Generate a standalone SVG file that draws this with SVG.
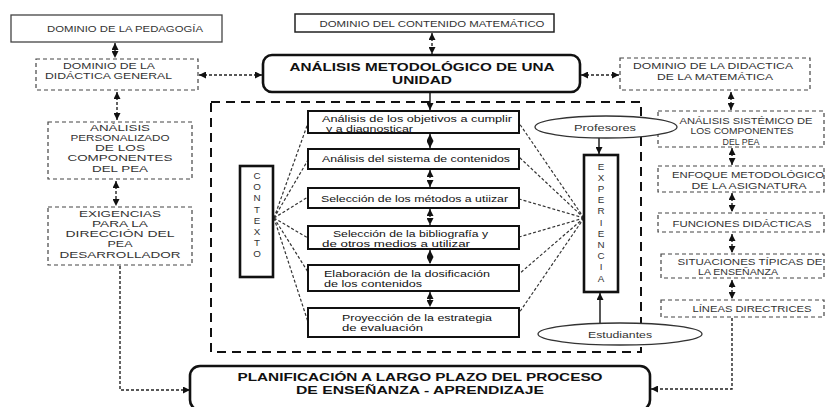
<svg xmlns="http://www.w3.org/2000/svg" width="826" height="407" viewBox="0 0 826 407">
<defs>
<marker id="ah" viewBox="0 0 10 10" refX="10" refY="5" markerWidth="7" markerHeight="7" markerUnits="userSpaceOnUse" orient="auto-start-reverse"><path d="M0,0 L10,5 L0,10 z" fill="#111"/></marker>
<style>
.col{fill:none;stroke:#444;stroke-width:1.2;stroke-dasharray:4 3}
.solid{fill:#fff;stroke:#222;stroke-width:1.5}
.box{fill:#fff;stroke:#111;stroke-width:2}
.thick{fill:#fff;stroke:#111;stroke-width:2.6}
.big{fill:none;stroke:#111;stroke-width:2;stroke-dasharray:9 6}
.dot{fill:none;stroke:#222;stroke-width:1.4;stroke-dasharray:3 2}
.dl{fill:none;stroke:#333;stroke-width:1.2;stroke-dasharray:3 2}
.sl{fill:none;stroke:#111;stroke-width:1.4}
.ell{fill:#fff;stroke:#333;stroke-width:1.3}
text{font-family:"Liberation Sans",Arial,sans-serif}
.ct{font-size:9.2px;fill:#333;text-anchor:middle}
.bt{font-size:9px;fill:#111}
.et{font-size:9px;fill:#333;text-anchor:middle}
.tt{font-size:11.5px;font-weight:bold;fill:#111;text-anchor:middle}
.vt{font-size:9.8px;fill:#333;text-anchor:middle}
</style>
</defs>
<rect width="826" height="407" fill="#fff"/>

<g id="contexto-area"><rect class="big" x="211" y="102" width="430" height="250"/></g>

<g id="connectors">
<path class="dot" d="M115,43 V58" marker-start="url(#ah)" marker-end="url(#ah)"/>
<path class="dot" d="M117,92 V120" marker-start="url(#ah)" marker-end="url(#ah)"/>
<path class="dot" d="M116,181 V206" marker-start="url(#ah)" marker-end="url(#ah)"/>
<path class="dot" d="M120,266 V390 H190" marker-end="url(#ah)"/>
<path class="dot" d="M199,75 H262" marker-start="url(#ah)" marker-end="url(#ah)"/>
<path class="dot" d="M581,75 H619" marker-start="url(#ah)" marker-end="url(#ah)"/>
<path class="dot" d="M432,33 V54" marker-start="url(#ah)" marker-end="url(#ah)"/>
<path class="sl" d="M430,93 V110" marker-end="url(#ah)"/>
<path class="sl" d="M430,134 V148" marker-start="url(#ah)" marker-end="url(#ah)"/>
<path class="dot" d="M430,170 V187" marker-start="url(#ah)" marker-end="url(#ah)"/>
<path class="dot" d="M430,209 V225" marker-start="url(#ah)" marker-end="url(#ah)"/>
<path class="dot" d="M430,250 V264" marker-start="url(#ah)" marker-end="url(#ah)"/>
<path class="dot" d="M430,292 V307" marker-start="url(#ah)" marker-end="url(#ah)"/>
<path class="dot" d="M731,92 V110" marker-start="url(#ah)" marker-end="url(#ah)"/>
<path class="dot" d="M732,148 V165" marker-start="url(#ah)" marker-end="url(#ah)"/>
<path class="dot" d="M732,193 V212" marker-start="url(#ah)" marker-end="url(#ah)"/>
<path class="dot" d="M732,234 V253" marker-start="url(#ah)" marker-end="url(#ah)"/>
<path class="dot" d="M732,280 V299" marker-start="url(#ah)" marker-end="url(#ah)"/>
<path class="dot" d="M732,318 V389 H651" marker-end="url(#ah)"/>
<path class="dl" d="M274,218 L308,123 M274,218 L308,160 M274,218 L308,197 M274,218 L308,238 M274,218 L308,272 M274,218 L308,322"/>
<path class="dl" d="M584,218 L519,123 M584,218 L519,157 M584,218 L519,199 M584,218 L519,237 M584,218 L519,274 M584,218 L519,313"/>
<path class="sl" d="M599,138 V154" marker-end="url(#ah)"/>
<path class="sl" d="M600,323 V293" marker-end="url(#ah)"/>
</g>

<g id="pedagogia"><rect x="11" y="15" width="211" height="27" fill="#fff" stroke="#444" stroke-width="1.3"/><text class="ct" x="125" y="32" textLength="156" lengthAdjust="spacingAndGlyphs">DOMINIO DE LA PEDAGOGÍA</text></g>
<g id="didactica-general"><rect class="col" x="36" y="59" width="162" height="31"/><text class="ct" x="109" y="68.5" textLength="92" lengthAdjust="spacingAndGlyphs">DOMINIO DE LA</text><text class="ct" x="108.5" y="79" textLength="127" lengthAdjust="spacingAndGlyphs">DIDÁCTICA GENERAL</text></g>
<g id="analisis-personalizado"><rect class="col" x="48" y="122" width="144" height="57"/><text class="ct" x="120" y="130.5" textLength="60" lengthAdjust="spacingAndGlyphs">ANÁLISIS</text><text class="ct" x="120" y="140.8" textLength="99" lengthAdjust="spacingAndGlyphs">PERSONALIZADO</text><text class="ct" x="120" y="151.1" textLength="50" lengthAdjust="spacingAndGlyphs">DE LOS</text><text class="ct" x="120" y="161.4" textLength="105" lengthAdjust="spacingAndGlyphs">COMPONENTES</text><text class="ct" x="120" y="171.7" textLength="56" lengthAdjust="spacingAndGlyphs">DEL PEA</text></g>
<g id="exigencias"><rect class="col" x="48" y="207" width="144" height="58"/><text class="ct" x="120" y="216.5" textLength="82" lengthAdjust="spacingAndGlyphs">EXIGENCIAS</text><text class="ct" x="120" y="226.8" textLength="56" lengthAdjust="spacingAndGlyphs">PARA LA</text><text class="ct" x="120" y="237.1" textLength="109" lengthAdjust="spacingAndGlyphs">DIRECCIÓN DEL</text><text class="ct" x="120" y="247.4" textLength="25" lengthAdjust="spacingAndGlyphs">PEA</text><text class="ct" x="120" y="257.7" textLength="121" lengthAdjust="spacingAndGlyphs">DESARROLLADOR</text></g>

<g id="contenido-matematico"><rect class="solid" x="295" y="14" width="259" height="18"/><text class="ct" x="432" y="26.5" textLength="225" lengthAdjust="spacingAndGlyphs">DOMINIO DEL CONTENIDO MATEMÁTICO</text></g>
<g id="analisis-metodologico"><rect class="thick" x="263" y="55" width="317" height="37" rx="9"/><text class="tt" x="422" y="71" textLength="265" lengthAdjust="spacingAndGlyphs">ANÁLISIS METODOLÓGICO DE UNA</text><text class="tt" x="422" y="84" textLength="60" lengthAdjust="spacingAndGlyphs">UNIDAD</text></g>

<g id="didactica-matematica"><rect class="col" x="620" y="58" width="190" height="32"/><text class="ct" x="713" y="69" textLength="160" lengthAdjust="spacingAndGlyphs">DOMINIO DE LA DIDACTICA</text><text class="ct" x="715" y="79.5" textLength="116" lengthAdjust="spacingAndGlyphs">DE LA MATEMÁTICA</text></g>
<g id="analisis-sistemico"><rect class="col" x="658" y="111" width="166" height="36"/><text class="ct" x="746" y="123.5" textLength="133" lengthAdjust="spacingAndGlyphs">ANÁLISIS SISTÉMICO DE</text><text class="ct" x="742" y="134" textLength="103" lengthAdjust="spacingAndGlyphs">LOS COMPONENTES</text><text class="ct" x="741" y="144.5" textLength="37" lengthAdjust="spacingAndGlyphs">DEL PEA</text></g>
<g id="enfoque"><rect class="col" x="658" y="166" width="166" height="26"/><text class="ct" x="748" y="178" textLength="152" lengthAdjust="spacingAndGlyphs">ENFOQUE METODOLÓGICO</text><text class="ct" x="749" y="188.5" textLength="115" lengthAdjust="spacingAndGlyphs">DE LA ASIGNATURA</text></g>
<g id="funciones"><rect class="col" x="658" y="213" width="166" height="19"/><text class="ct" x="742" y="226.5" textLength="139" lengthAdjust="spacingAndGlyphs">FUNCIONES DIDÁCTICAS</text></g>
<g id="situaciones"><rect class="col" x="661" y="254" width="163" height="24"/><text class="ct" x="750" y="264.8" textLength="145" lengthAdjust="spacingAndGlyphs">SITUACIONES TÍPICAS DE</text><text class="ct" x="738" y="275.2" textLength="80" lengthAdjust="spacingAndGlyphs">LA ENSEÑANZA</text></g>
<g id="lineas"><rect class="col" x="661" y="300" width="163" height="17"/><text class="ct" x="752" y="312" textLength="119" lengthAdjust="spacingAndGlyphs">LÍNEAS DIRECTRICES</text></g>

<g id="b1"><rect class="box" x="308" y="111" width="211" height="22"/><text class="bt" x="322" y="121.5" textLength="190" lengthAdjust="spacingAndGlyphs">Análisis  de los objetivos a cumplir</text><text class="bt" x="326" y="131.5" textLength="87" lengthAdjust="spacingAndGlyphs">y a diagnosticar</text></g>
<g id="b2"><rect class="box" x="308" y="149" width="211" height="20"/><text class="bt" x="322" y="162" textLength="188" lengthAdjust="spacingAndGlyphs">Análisis del sistema de contenidos</text></g>
<g id="b3"><rect class="box" x="308" y="188" width="211" height="20"/><text class="bt" x="321" y="201.5" textLength="187" lengthAdjust="spacingAndGlyphs">Selección de los métodos a utiizar</text></g>
<g id="b4"><rect class="box" x="308" y="226" width="211" height="23"/><text class="bt" x="333" y="237" textLength="155" lengthAdjust="spacingAndGlyphs">Selección de la bibliografía y</text><text class="bt" x="322" y="247.2" textLength="148" lengthAdjust="spacingAndGlyphs">de otros medios a utilizar</text></g>
<g id="b5"><rect class="box" x="308" y="265" width="211" height="26"/><text class="bt" x="324" y="276.5" textLength="166" lengthAdjust="spacingAndGlyphs">Elaboración de la dosificación</text><text class="bt" x="324" y="286.7" textLength="98" lengthAdjust="spacingAndGlyphs">de los contenidos</text></g>
<g id="b6"><rect class="box" x="308" y="308" width="211" height="29"/><text class="bt" x="342" y="321" textLength="150" lengthAdjust="spacingAndGlyphs">Proyección de la estrategia</text><text class="bt" x="342" y="331.2" textLength="81" lengthAdjust="spacingAndGlyphs">de evaluación</text></g>

<g id="contexto"><rect class="thick" x="240" y="166" width="33" height="111"/>
<text class="vt" x="257" y="179">C</text><text class="vt" x="257" y="190.2">O</text><text class="vt" x="257" y="201.4">N</text><text class="vt" x="257" y="212.6">T</text><text class="vt" x="257" y="223.8">E</text><text class="vt" x="257" y="235">X</text><text class="vt" x="257" y="246.2">T</text><text class="vt" x="257" y="257.4">O</text></g>

<g id="experiencia"><rect class="thick" x="584" y="155" width="34" height="137"/>
<text class="vt" x="601" y="169.5">E</text><text class="vt" x="601" y="180.7">X</text><text class="vt" x="601" y="191.9">P</text><text class="vt" x="601" y="203.1">E</text><text class="vt" x="601" y="214.3">R</text><text class="vt" x="601" y="225.5">I</text><text class="vt" x="601" y="236.7">E</text><text class="vt" x="601" y="247.9">N</text><text class="vt" x="601" y="259.1">C</text><text class="vt" x="601" y="270.3">I</text><text class="vt" x="601" y="281.5">A</text></g>

<g id="profesores"><ellipse class="ell" cx="606" cy="127" rx="71" ry="11"/><text class="et" x="605" y="130.5" textLength="62" lengthAdjust="spacingAndGlyphs">Profesores</text></g>
<g id="estudiantes"><ellipse class="ell" cx="620" cy="334" rx="82" ry="11"/><text class="et" x="620" y="337.5" textLength="64" lengthAdjust="spacingAndGlyphs">Estudiantes</text></g>

<g id="planificacion"><rect class="thick" x="190" y="366" width="460" height="44" rx="10"/><text class="tt" x="420" y="381" textLength="365" lengthAdjust="spacingAndGlyphs">PLANIFICACIÓN A LARGO PLAZO DEL PROCESO</text><text class="tt" x="420" y="394" textLength="248" lengthAdjust="spacingAndGlyphs">DE ENSEÑANZA - APRENDIZAJE</text></g>
</svg>
